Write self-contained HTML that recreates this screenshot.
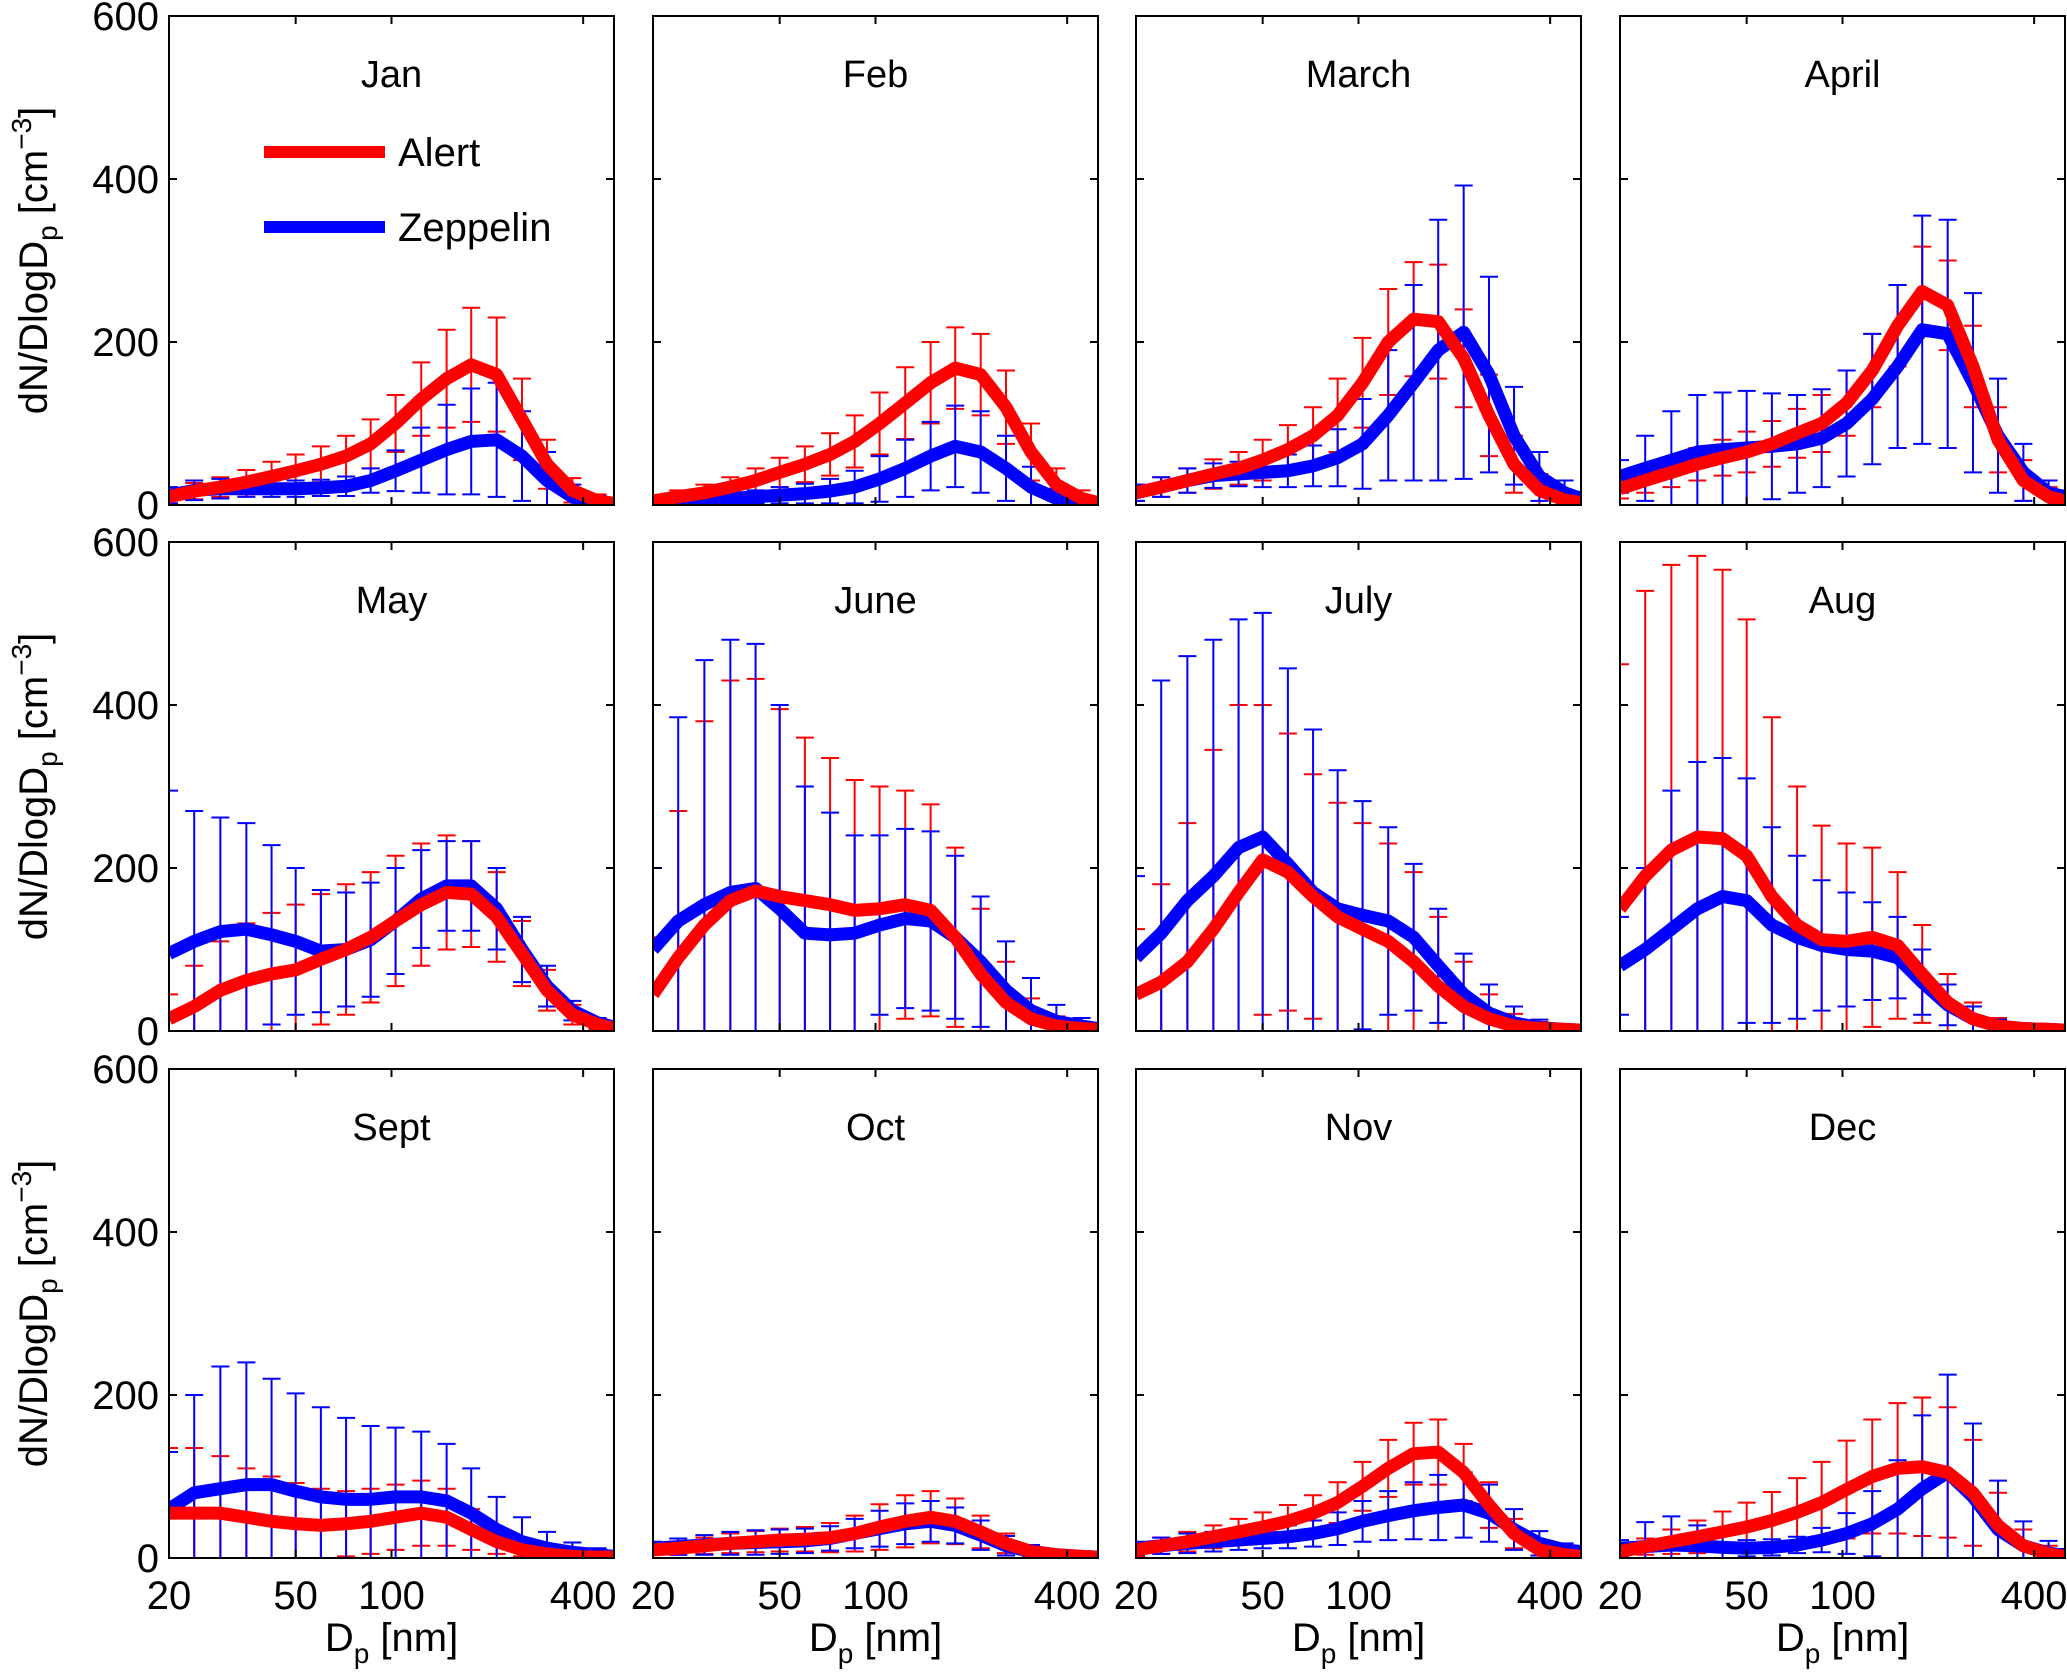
<!DOCTYPE html>
<html><head><meta charset="utf-8"><style>
html,body{margin:0;padding:0;background:#fff;}
svg{display:block;font-family:"Liberation Sans",Arial,sans-serif;}
</style></head><body>
<svg id="chart" width="2067" height="1677" viewBox="0 0 2067 1677" xmlns="http://www.w3.org/2000/svg"></svg>
<script>
const months = ["Jan","Feb","March","April","May","June","July","Aug","Sept","Oct","Nov","Dec"];
const diameters = [20,24,29,35,42,50,60,72,86,103,124,149,178,214,257,308,370,444,500];
const yTicks = [0,200,400,600];
const xTicks = [20,50,100,400];
const alertMean = [
[10,17,22,28,35,42,50,60,75,100,130,155,172,160,105,50,18,5,2],
[5,10,15,22,30,40,50,62,78,100,125,150,168,160,120,65,25,8,3],
[15,22,30,38,45,55,68,85,110,150,200,228,225,180,110,50,18,6,3],
[20,30,40,50,58,65,75,88,100,125,165,220,262,245,170,80,30,10,5],
[15,30,50,62,70,75,88,100,115,135,155,170,168,140,95,50,20,8,3],
[45,90,130,160,172,165,160,155,148,150,155,148,115,70,35,15,6,3,2],
[45,60,85,125,170,210,195,165,140,125,110,85,55,30,15,6,3,2,1],
[150,190,222,238,236,215,165,130,112,110,115,105,70,35,15,6,3,2,1],
[55,55,55,50,45,42,40,42,45,50,55,50,35,20,10,5,2,1,1],
[10,12,15,18,20,22,23,25,30,38,45,50,45,32,18,8,4,2,1],
[10,15,20,26,32,38,45,55,68,88,110,128,130,105,65,30,10,4,2],
[8,14,20,26,32,38,46,56,68,84,100,110,112,105,80,40,15,5,2]];
const alertErr = [
[8,10,12,15,18,20,22,25,30,35,45,60,70,70,50,30,15,8,5],
[5,8,10,12,15,18,22,26,32,38,44,50,50,50,45,35,20,10,5],
[10,12,15,18,20,25,30,35,45,55,65,70,70,60,50,35,20,10,5],
[12,15,18,20,22,25,28,30,35,40,45,50,55,55,50,40,25,12,6],
[30,50,60,70,75,80,80,80,80,80,75,70,65,55,40,25,12,6,3],
[70,180,250,270,260,230,200,180,160,150,140,130,110,80,50,25,12,6,3],
[80,120,170,220,230,190,170,150,140,130,120,110,85,55,30,15,8,4,2],
[300,350,350,345,330,290,220,170,140,120,110,90,60,35,20,10,5,3,2],
[80,80,70,60,55,50,45,40,40,40,40,35,25,15,8,4,2,1,1],
[5,8,10,12,13,14,15,18,22,28,32,32,28,20,12,6,3,2,1],
[8,10,12,14,16,18,20,22,25,30,35,38,40,35,28,18,10,5,3],
[6,10,15,20,25,30,35,42,50,60,70,80,85,80,65,40,20,10,5]];
const zepMean = [
[12,18,20,20,20,20,21,23,30,42,55,68,78,80,60,30,10,3,2],
[2,4,6,8,10,12,14,17,22,32,45,60,72,65,45,22,8,3,1],
[15,22,30,36,38,40,42,48,58,75,110,150,190,212,160,85,35,15,8],
[35,45,55,65,68,70,72,75,82,100,130,170,215,210,150,85,40,15,10],
[95,110,122,125,118,110,98,100,112,135,162,178,178,150,100,55,25,10,5],
[100,135,155,170,175,150,120,118,120,130,138,135,115,85,50,25,12,6,3],
[90,120,160,190,225,238,205,170,150,142,135,115,80,45,22,10,4,2,1],
[80,100,125,150,165,160,130,115,105,100,98,90,60,32,15,6,3,2,1],
[60,80,85,90,90,82,75,72,72,75,75,70,55,35,20,12,7,4,2],
[12,14,16,18,19,20,21,24,30,36,42,45,40,28,15,8,4,2,1],
[12,15,18,20,22,24,26,30,36,45,52,58,62,65,55,35,18,10,8],
[12,14,16,15,13,12,13,16,22,30,42,60,85,105,75,35,15,6,3]];
const zepErr = [
[10,12,12,10,10,10,10,12,15,25,40,55,65,70,55,35,15,8,5],
[3,5,6,7,8,10,12,15,20,28,35,42,50,50,40,25,12,6,3],
[10,12,15,15,15,18,20,25,35,55,80,120,160,180,120,60,30,15,8],
[20,40,60,70,70,70,65,60,60,65,80,100,140,140,110,70,35,15,8],
[200,160,140,130,110,90,75,70,70,65,60,55,55,50,40,25,12,6,3],
[100,250,300,310,300,250,180,150,120,110,110,110,100,80,60,40,20,10,5],
[100,310,300,290,280,275,240,200,170,140,115,90,70,50,35,20,10,5,3],
[60,100,170,180,170,150,120,100,80,70,60,50,40,25,15,8,4,2,1],
[70,120,150,150,130,120,110,100,90,85,80,70,55,40,30,20,12,8,4],
[8,10,12,14,15,15,15,15,18,22,25,25,22,18,12,8,5,3,2],
[8,10,12,12,12,12,14,16,20,25,30,35,40,40,35,25,15,8,5],
[10,30,35,25,15,10,10,10,15,25,40,60,90,120,90,60,30,15,8]];

const NS="http://www.w3.org/2000/svg";
const svg=document.getElementById('chart');
const colX=[169,653,1136,1620], rowY=[16,542,1069], PW=445, PH=489;
const XMIN=20, XMAX=500, YMAX=600;
function mk(tag,attrs,parent){const e=document.createElementNS(NS,tag);for(const k in attrs)e.setAttribute(k,attrs[k]);(parent||svg).appendChild(e);return e;}
const defs=mk('defs',{});
for(let m=0;m<12;m++){
  const c=m%4, r=Math.floor(m/4);
  const x0=colX[c], y0=rowY[r];
  const sx=d=>x0+Math.log10(d/XMIN)/Math.log10(XMAX/XMIN)*PW;
  const sy=v=>y0+PH-v/YMAX*PH;
  const cp=mk('clipPath',{id:'cp'+m},defs);
  mk('rect',{x:x0,y:y0,width:PW,height:PH},cp);
  const g=mk('g',{});
  
  
  const pg=mk('g',{'clip-path':'url(#cp'+m+')'},g);
  function bars(mean,err,color,name){
    const bg=mk('g',{stroke:color,'stroke-width':2,fill:'none'},pg);
    
    
    diameters.forEach((d,i)=>{
      const x=sx(d), hi=sy(mean[i]+err[i]), lo=sy(Math.max(0,mean[i]-err[i]));
      const eb=mk('path',{d:`M${x},${hi}V${lo}M${x-9},${hi}H${x+9}M${x-9},${lo}H${x+9}`},bg);
      
      
    });
  }
  function line(mean,color,name){
    const p=mk('polyline',{points:diameters.map((d,i)=>sx(d)+','+sy(mean[i])).join(' '),fill:'none',stroke:color,'stroke-width':13,'stroke-linejoin':'round','stroke-linecap':'butt'},pg);
    
    
  }
  bars(alertMean[m],alertErr[m],'#ff0000','alert');
  bars(zepMean[m],zepErr[m],'#0000ff','zeppelin');
  line(zepMean[m],'#0000ff','zeppelin');
  line(alertMean[m],'#ff0000','alert');
  const fr=mk('rect',{x:x0,y:y0,width:PW,height:PH,fill:'none',stroke:'#000','stroke-width':2},g);
  
  
  const tg=mk('g',{stroke:'#000','stroke-width':2},g);
  yTicks.forEach(v=>{const y=sy(v);mk('path',{d:`M${x0},${y}h8M${x0+PW},${y}h-8`},tg);});
  xTicks.forEach(d=>{const x=sx(d);mk('path',{d:`M${x},${y0+PH}v-8M${x},${y0}v8`},tg);});
  const t=mk('text',{x:x0+PW/2,y:y0+71,'text-anchor':'middle','font-size':38},g);
  t.textContent=months[m];
  
  
  if(c===0){
    yTicks.forEach(v=>{
      const tl=mk('text',{x:x0-10,y:sy(v)+14,'text-anchor':'end','font-size':40},g);
      tl.textContent=v;
      
      
    });
    const cy=y0+PH/2;
    const yl=mk('text',{x:0,y:0,transform:`translate(47,${cy}) rotate(-90)`,'text-anchor':'middle','font-size':40},g);
    yl.innerHTML='dN/DlogD<tspan font-size="28" dy="10">p</tspan><tspan dy="-10"> [cm</tspan><tspan font-size="28" dy="-16">−3</tspan><tspan dy="16">]</tspan>';
    
    
  }
  if(r===2){
    xTicks.forEach(d=>{
      const tl=mk('text',{x:sx(d),y:y0+PH+51,'text-anchor':'middle','font-size':40},g);
      tl.textContent=d;
      
      
    });
    const xl=mk('text',{x:x0+PW/2,y:y0+PH+93,'text-anchor':'middle','font-size':40},g);
    xl.innerHTML='D<tspan font-size="28" dy="12">p</tspan><tspan dy="-12"> [nm]</tspan>';
    
    
  }
}
// legend
const lg=mk('g',{});


mk('line',{x1:264,y1:152,x2:385,y2:152,stroke:'#ff0000','stroke-width':12},lg);
mk('line',{x1:264,y1:227,x2:385,y2:227,stroke:'#0000ff','stroke-width':12},lg);
const la=mk('text',{x:398,y:166,'font-size':40},lg);la.textContent='Alert';


const lz=mk('text',{x:398,y:241,'font-size':40},lg);lz.textContent='Zeppelin';


</script>
</body></html>
